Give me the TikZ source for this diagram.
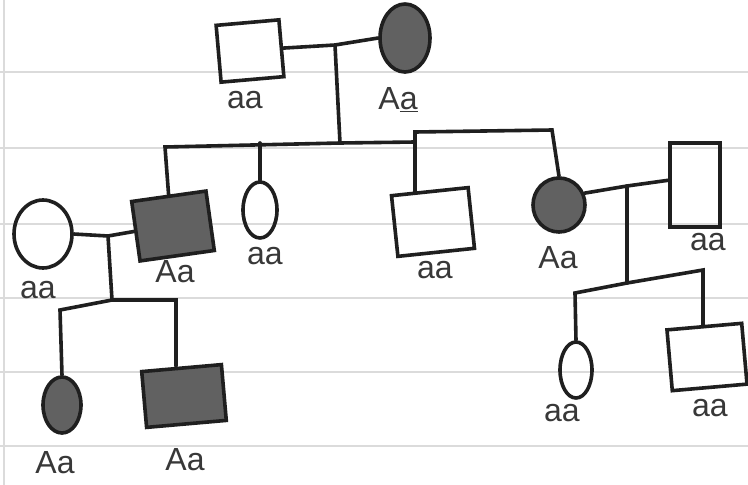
\documentclass[tikz,border=0pt]{standalone}
\usepackage{fontspec}
\setmainfont{Liberation Sans}
\usetikzlibrary{shapes.geometric}
\begin{document}
\begin{tikzpicture}[x=1pt,y=-1pt,
  pen/.style={line width=3.6pt, draw=black!88},
  male/.style={pen, rectangle, inner sep=0pt},
  female/.style={pen, ellipse, inner sep=0pt},
  aff/.style={fill=black!62},
  gen/.style={font=\fontsize{32}{32}\selectfont, text=black!78, inner sep=0pt},
  link/.style={line width=3.6pt, draw=black!88, line cap=round},
  rule/.style={draw=black!14, line width=2pt}]
\path[use as bounding box, fill=white] (0,0) rectangle (748,485);
\foreach \y in {72,148,224,298,372,446} \draw[rule] (0,\y) -- (748,\y);
\draw[rule] (4,0) -- (4,485);

% generation I
\node[male, minimum width=63pt, minimum height=57pt, rotate=5] (I1) at (250,51) {};
\node[female, aff, minimum width=50pt, minimum height=68pt] (I2) at (405,38) {};
\node[gen] (lI1) at (245,100) {aa};
\node[gen] (lI2) at (398,100) {A\underline{a}};

% generation II
\node[male, aff, minimum width=75pt, minimum height=60pt, rotate=8] (c1) at (173,226) {};
\node[female, minimum width=34pt, minimum height=56pt] (c2) at (260,210) {};
\node[male, minimum width=77pt, minimum height=61pt, rotate=6] (c3) at (433,222) {};
\node[female, aff, minimum width=52pt, minimum height=54pt] (c4) at (559,205) {};
\node[female, minimum width=58pt, minimum height=68pt] (sp1) at (43,234) {};
\node[male, minimum width=50pt, minimum height=84pt] (sp2) at (695,185) {};
\node[gen] (lc1) at (175,272) {Aa};
\node[gen] (lc2) at (265,256) {aa};
\node[gen] (lc3) at (435,270) {aa};
\node[gen] (lc4) at (558,258) {Aa};
\node[gen] (lsp1) at (38,290) {aa};
\node[gen] (lsp2) at (708,242) {aa};

% generation III
\node[female, aff, minimum width=38pt, minimum height=56pt] (g1) at (62,405) {};
\node[male, aff, minimum width=80pt, minimum height=56pt, rotate=5] (g2) at (184,396) {};
\node[female, minimum width=32pt, minimum height=56pt] (g3) at (576,370) {};
\node[male, minimum width=75pt, minimum height=61pt, rotate=5] (g4) at (707,357) {};
\node[gen] (lg1) at (55,463) {Aa};
\node[gen] (lg2) at (185,460) {Aa};
\node[gen] (lg3) at (562,413) {aa};
\node[gen] (lg4) at (710,408) {aa};

% connectors, top family
\coordinate (m1) at (335,45);
\coordinate (s1) at (340,143);
\coordinate (s1L) at (165,147);
\coordinate (s1R) at (415,142);
\coordinate (s1R2) at (415,132);
\coordinate (s1R3) at (552,130);
\draw[link] (I1.east) -- (m1) -- (I2.west);
\draw[link] (m1) -- (s1);
\draw[link] (c1.north) -- (s1L) -- (s1) -- (s1R) -- (s1R2) -- (s1R3) -- (c4.north);
\draw[link] (c2.north) -- (c2.north |- s1);
\draw[link, shorten >=-3pt] (s1R) -- (s1R |- c3.north);

% left family
\coordinate (m2) at (108,236);
\coordinate (s2) at (112,300);
\coordinate (s2L) at (60,310);
\coordinate (s2R) at (176,300);
\draw[link] (sp1.east) -- (m2) -- (c1.west);
\draw[link] (m2) -- (s2);
\draw[link] (g1.north) -- (s2L) -- (s2) -- (s2R) -- (s2R |- g2.north);

% right family
\coordinate (m3) at (627,186);
\coordinate (s3) at (627,283);
\coordinate (s3L) at (575,293);
\coordinate (s3R) at (703,270);
\draw[link] (c4.25) -- (m3) -- (sp2.170);
\draw[link] (m3) -- (s3);
\draw[link] (g3.north) -- (s3L) -- (s3) -- (s3R) -- (s3R |- g4.north);
\end{tikzpicture}
\end{document}
